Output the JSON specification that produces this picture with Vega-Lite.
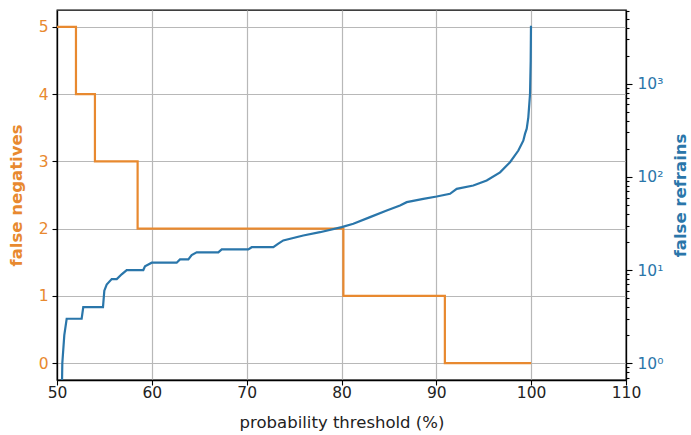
{
  "$schema": "https://vega.github.io/schema/vega-lite/v6.json",
  "width": 569,
  "height": 370,
  "autosize": {"type": "none"},
  "padding": {"left": 57, "top": 10, "right": 65, "bottom": 55},
  "background": "white",
  "config": {
    "font": "DejaVu Sans",
    "view": {"stroke": "#000000", "strokeWidth": 1.3},
    "axis": {
      "labelFont": "DejaVu Sans",
      "titleFont": "DejaVu Sans",
      "labelFontSize": 15.5,
      "titleFontSize": 16.5,
      "labelFlush": false,
      "domainColor": "#000000",
      "domainWidth": 1.3,
      "tickColor": "#000000",
      "tickWidth": 1.1,
      "gridColor": "#b8b8b8",
      "gridWidth": 1.2,
      "labelColor": "#222222",
      "titleColor": "#222222",
      "titleFontWeight": "normal"
    }
  },
  "datasets": {
    "fn": [
      {"threshold": 50.0, "false_negatives": 5},
      {"threshold": 52.0, "false_negatives": 4},
      {"threshold": 54.0, "false_negatives": 3},
      {"threshold": 58.5, "false_negatives": 2},
      {"threshold": 80.2, "false_negatives": 1},
      {"threshold": 90.9, "false_negatives": 0},
      {"threshold": 100.0, "false_negatives": 0}
    ],
    "fr": [
      {"threshold": 50.50, "false_refrains": 0.4},
      {"threshold": 50.56, "false_refrains": 1},
      {"threshold": 50.77, "false_refrains": 2},
      {"threshold": 51.02, "false_refrains": 3},
      {"threshold": 52.60, "false_refrains": 3},
      {"threshold": 52.77, "false_refrains": 4},
      {"threshold": 54.85, "false_refrains": 4},
      {"threshold": 54.99, "false_refrains": 6},
      {"threshold": 55.24, "false_refrains": 7},
      {"threshold": 55.77, "false_refrains": 8},
      {"threshold": 56.30, "false_refrains": 8},
      {"threshold": 56.82, "false_refrains": 9},
      {"threshold": 57.35, "false_refrains": 10},
      {"threshold": 59.10, "false_refrains": 10},
      {"threshold": 59.28, "false_refrains": 11},
      {"threshold": 59.99, "false_refrains": 12},
      {"threshold": 62.62, "false_refrains": 12},
      {"threshold": 62.97, "false_refrains": 13},
      {"threshold": 63.85, "false_refrains": 13},
      {"threshold": 64.20, "false_refrains": 14.5},
      {"threshold": 64.73, "false_refrains": 15.5},
      {"threshold": 67.01, "false_refrains": 15.5},
      {"threshold": 67.37, "false_refrains": 16.7},
      {"threshold": 70.17, "false_refrains": 16.7},
      {"threshold": 70.53, "false_refrains": 17.6},
      {"threshold": 72.81, "false_refrains": 17.6},
      {"threshold": 73.34, "false_refrains": 19.2},
      {"threshold": 73.86, "false_refrains": 20.8},
      {"threshold": 75.97, "false_refrains": 23.5},
      {"threshold": 77.73, "false_refrains": 25.5},
      {"threshold": 80.02, "false_refrains": 28.9},
      {"threshold": 81.25, "false_refrains": 31.4},
      {"threshold": 83.01, "false_refrains": 37},
      {"threshold": 84.77, "false_refrains": 43.6},
      {"threshold": 86.17, "false_refrains": 49.4},
      {"threshold": 86.88, "false_refrains": 53.6},
      {"threshold": 88.63, "false_refrains": 58.2},
      {"threshold": 90.04, "false_refrains": 61.6},
      {"threshold": 91.44, "false_refrains": 65.9},
      {"threshold": 92.15, "false_refrains": 74.5},
      {"threshold": 93.90, "false_refrains": 80.9},
      {"threshold": 95.31, "false_refrains": 91.5},
      {"threshold": 96.72, "false_refrains": 112},
      {"threshold": 97.77, "false_refrains": 144},
      {"threshold": 98.65, "false_refrains": 192},
      {"threshold": 99.17, "false_refrains": 245},
      {"threshold": 99.35, "false_refrains": 290},
      {"threshold": 99.53, "false_refrains": 330},
      {"threshold": 99.70, "false_refrains": 436},
      {"threshold": 99.88, "false_refrains": 777},
      {"threshold": 99.95, "false_refrains": 1767},
      {"threshold": 99.98, "false_refrains": 4200}
    ]
  },
  "layer": [
    {
      "data": {"name": "fn"},
      "mark": {"type": "line", "interpolate": "step-after", "color": "#e8892f", "strokeWidth": 2.2, "clip": true},
      "encoding": {
        "x": {
          "field": "threshold",
          "type": "quantitative",
          "scale": {"domain": [50, 110], "nice": false, "zero": false},
          "axis": {
            "values": [50, 60, 70, 80, 90, 100, 110],
            "title": "probability threshold (%)",
            "grid": true,
            "tickSize": 5,
            "labelPadding": 0,
            "titlePadding": 14
          }
        },
        "y": {
          "field": "false_negatives",
          "type": "quantitative",
          "scale": {"domain": [-0.25, 5.25], "nice": false, "zero": false},
          "axis": {
            "values": [0, 1, 2, 3, 4, 5],
            "title": "false negatives",
            "titleColor": "#e8892f",
            "labelColor": "#e8892f",
            "titleFontWeight": "bold",
            "grid": true,
            "tickSize": 5,
            "labelPadding": 4,
            "titlePadding": 14
          }
        }
      }
    },
    {
      "data": {"name": "fr"},
      "mark": {"type": "line", "color": "#2a76aa", "strokeWidth": 2.2, "clip": true},
      "encoding": {
        "x": {"field": "threshold", "type": "quantitative"},
        "y": {
          "field": "false_refrains",
          "type": "quantitative",
          "scale": {"type": "log", "domain": [0.66, 6200], "nice": false},
          "axis": {
            "orient": "right",
            "values": [0.7, 0.8, 0.9, 1, 2, 3, 4, 5, 6, 7, 8, 9, 10, 20, 30, 40, 50, 60, 70, 80, 90, 100, 200, 300, 400, 500, 600, 700, 800, 900, 1000, 2000, 3000, 4000, 5000, 6000],
            "labelExpr": "datum.value == 1 ? '10⁰' : datum.value == 10 ? '10¹' : datum.value == 100 ? '10²' : datum.value == 1000 ? '10³' : ''",
            "tickSize": {"condition": {"test": "datum.value == 1 || datum.value == 10 || datum.value == 100 || datum.value == 1000", "value": 6}, "value": 3},
            "grid": false,
            "title": "false refrains",
            "titleAngle": 270,
            "titleBaseline": "top",
            "titleColor": "#2a76aa",
            "labelColor": "#2a76aa",
            "titleFontWeight": "bold",
            "labelPadding": 5,
            "titlePadding": 10
          }
        }
      }
    }
  ],
  "resolve": {"scale": {"y": "independent"}}
}
